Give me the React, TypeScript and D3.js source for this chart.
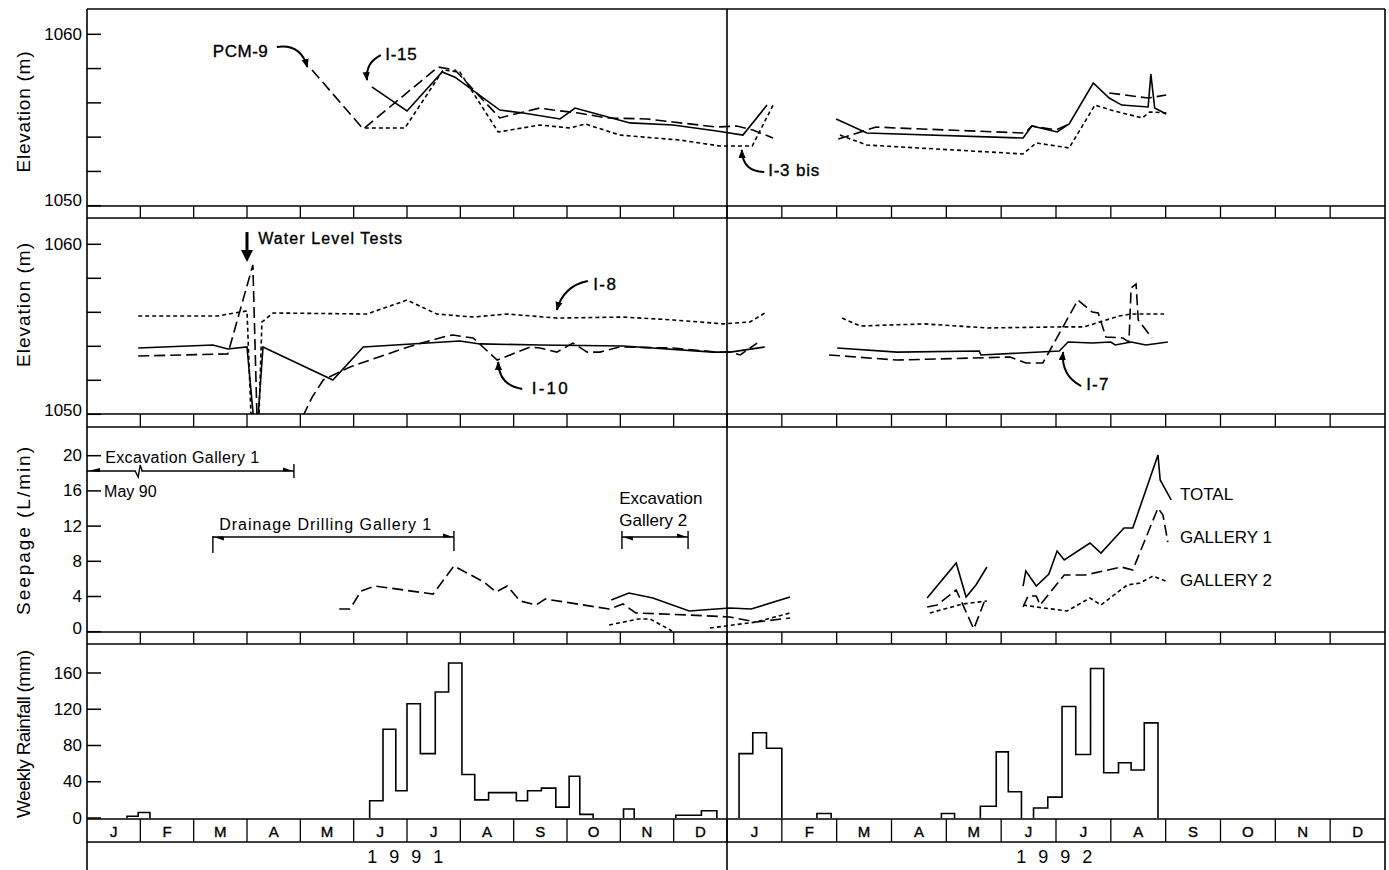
import React from 'react';
import * as d3 from 'd3';

type Pt = [number, number] | null;

// x values are months counted from 1 Jan 1991 (12 = 1 Jan 1992)
const monthLabels = ['J', 'F', 'M', 'A', 'M', 'J', 'J', 'A', 'S', 'O', 'N', 'D'];
const yearLabels = ['1 9 9 1', '1 9 9 2'];

const elevTicks = [1050, 1052, 1054, 1056, 1058, 1060];
const elevLabels = [1050, 1060];
const seepTicks = [0, 4, 8, 12, 16, 20];
const rainTicks = [0, 40, 80, 120, 160];

// Panel 1 - elevation (m)
const pcm9: Pt[] = [
  [4.22, 1057.92], [5.18, 1054.47], [6.58, 1058.09], [6.9, 1057.92], [7.74, 1055.12], [8.18, 1055.47],
  [8.49, 1055.7], [8.74, 1055.58], [9.21, 1055.41], [9.75, 1055.12], [10.5, 1055.06], [10.99, 1054.88],
  [11.81, 1054.59], [12.18, 1054.65], [12.47, 1054.42], [12.84, 1053.95], null,
  [14.03, 1053.89], [14.72, 1054.59], [15.12, 1054.53], [17.43, 1054.24], [17.56, 1054.65], [18.0, 1054.42],
  [18.24, 1054.77], null, [18.97, 1056.58], [19.68, 1056.28], [20.01, 1056.46],
];
const i15: Pt[] = [
  [5.34, 1056.93], [6.0, 1055.53], [6.66, 1057.8], [6.9, 1057.5], [7.74, 1055.58], [8.18, 1055.41],
  [8.87, 1055.06], [9.15, 1055.7], [9.49, 1055.41], [10.18, 1054.83], [10.99, 1054.71], [11.81, 1054.36],
  [12.29, 1054.12], [12.73, 1055.87], null,
  [13.99, 1055.06], [14.55, 1054.24], [17.4, 1053.95], [17.56, 1054.65], [18.02, 1054.3], [18.24, 1054.77],
  [18.68, 1057.16], [18.97, 1056.28], [19.2, 1055.87], [19.68, 1055.76], [19.73, 1057.68], [19.8, 1055.7],
  [20.01, 1055.35],
];
const i3bis: Pt[] = [
  [5.21, 1054.53], [5.96, 1054.53], [6.68, 1057.92], [6.99, 1057.8], [7.71, 1054.3], [8.49, 1054.71],
  [9.06, 1054.53], [9.34, 1054.77], [9.99, 1054.12], [11.12, 1053.83], [11.87, 1053.48], [12.46, 1053.48],
  [12.84, 1055.87], null,
  [14.06, 1054.12], [14.55, 1053.54], [17.4, 1053.02], [17.64, 1053.66], [18.24, 1053.37], [18.71, 1055.87],
  [19.0, 1055.58], [19.57, 1055.12], [19.71, 1055.47], [20.01, 1055.41],
];

// Panel 2 - elevation (m)
const i8: Pt[] = [
  [0.96, 1055.78], [2.44, 1055.78], [3.0, 1056.08], [3.08, 1049.5], [3.22, 1049.5], [3.28, 1055.43],
  [3.49, 1055.96], [5.25, 1055.9], [6.0, 1056.72], [6.56, 1055.9], [7.24, 1055.72], [7.88, 1055.9],
  [8.81, 1055.66], [10.05, 1055.72], [10.99, 1055.55], [11.93, 1055.32], [12.42, 1055.43], [12.69, 1055.96], null,
  [14.1, 1055.66], [14.43, 1055.19], [15.59, 1055.32], [16.74, 1055.08], [18.09, 1055.14], [18.51, 1055.14],
  [19.15, 1055.78], [19.37, 1055.9], [19.97, 1055.9],
];
const i10: Pt[] = [
  [0.96, 1053.43], [2.64, 1053.55], [3.11, 1058.78], [3.19, 1049.5], null,
  [4.05, 1049.9], [4.22, 1051.0], [4.43, 1052.02], [4.93, 1052.78], [5.5, 1053.4], [6.02, 1053.96],
  [6.75, 1054.61], [6.86, 1054.66], [7.24, 1054.49], [7.69, 1053.19], [8.31, 1053.96], [8.49, 1053.9],
  [8.81, 1053.66], [9.11, 1054.19], [9.38, 1053.66], [9.62, 1053.66], [9.99, 1053.96], [10.99, 1053.9],
  [11.81, 1053.66], [12.06, 1053.66], [12.24, 1053.49], [12.55, 1054.19], null,
  [13.86, 1053.49], [15.1, 1053.19], [17.16, 1053.37], [17.45, 1053.02], [17.76, 1053.02], [18.4, 1056.72],
  [18.66, 1056.02], [18.77, 1055.96], [18.91, 1054.55], [19.22, 1054.49], [19.33, 1054.25], [19.37, 1057.43],
  [19.46, 1057.66], [19.5, 1055.55], [19.75, 1054.49],
];
const i7: Pt[] = [
  [0.96, 1053.9], [2.36, 1054.08], [2.64, 1053.84], [3.0, 1053.96], [3.13, 1049.5], [3.2, 1049.5],
  [3.3, 1053.96], [4.61, 1052.02], [5.18, 1053.96], [6.99, 1054.31], [7.37, 1054.14], [8.49, 1054.08],
  [10.05, 1054.02], [11.74, 1053.66], [12.06, 1053.66], [12.69, 1053.96], null,
  [14.01, 1053.9], [15.1, 1053.66], [16.6, 1053.72], [16.63, 1053.49], [18.06, 1053.72], [18.22, 1054.25],
  [18.66, 1054.19], [19.0, 1054.25], [19.08, 1054.08], [19.37, 1054.25], [19.64, 1054.08], [20.04, 1054.25],
];

// Panel 3 - seepage (L/min)
const total: Pt[] = [
  [9.83, 3.6], [10.16, 4.4], [10.61, 3.83], [11.29, 2.35], [12.05, 2.69], [12.44, 2.58], [13.15, 3.94], null,
  [15.65, 3.83], [16.18, 7.81], [16.36, 3.94], [16.54, 5.31], [16.74, 7.35], null,
  [17.4, 5.19], [17.45, 6.9], [17.64, 5.19], [17.87, 6.56], [18.02, 9.17], [18.15, 8.15], [18.62, 10.08],
  [18.82, 8.94], [19.24, 11.78], [19.4, 11.78], [19.86, 20.08], [19.9, 17.24], [20.1, 14.97],
];
const gallery1: Pt[] = [
  [4.73, 2.58], [4.93, 2.58], [5.14, 4.63], [5.4, 5.19], [6.49, 4.28], [6.88, 7.47], [7.44, 5.65],
  [7.67, 4.51], [7.88, 5.19], [8.12, 3.49], [8.42, 3.03], [8.59, 3.72], [9.79, 2.58], [10.05, 3.15],
  [10.29, 2.13], [11.27, 1.9], [12.05, 1.67], [12.53, 1.1], [13.15, 1.56], null,
  [15.65, 2.81], [15.83, 3.03], [16.18, 4.74], [16.5, 0.31], [16.69, 3.38], null,
  [17.4, 2.81], [17.49, 4.06], [17.64, 4.06], [17.71, 3.03], [18.15, 6.44], [18.53, 6.44], [19.19, 7.35],
  [19.4, 7.01], [19.86, 14.06], [19.95, 13.26], [20.04, 10.19],
];
const gallery2: Pt[] = [
  [9.79, 0.76], [10.33, 1.44], [10.56, 1.44], [10.97, 0.08], null,
  [11.68, 0.42], [12.53, 1.1], [13.15, 2.13], null,
  [15.7, 2.13], [16.3, 3.15], [16.74, 3.49], null,
  [17.4, 3.03], [17.64, 2.81], [18.2, 2.35], [18.62, 3.83], [18.82, 3.03], [19.3, 5.31], [19.53, 5.53],
  [19.77, 6.33], [20.04, 5.65],
];

// Panel 4 - weekly rainfall (mm): week edges (months) and values per group
const rainEdges: number[][] = [
  [0.75, 0.96, 1.18],
  [5.3, 5.55, 5.79, 6.0, 6.25, 6.53, 6.78, 7.03, 7.27, 7.53, 7.81, 8.05, 8.26, 8.52, 8.79, 9.04, 9.24, 9.49],
  [10.06, 10.26],
  [11.04, 11.28, 11.52, 11.81],
  [12.22, 12.47, 12.72, 13.0],
  [13.64, 13.9],
  [15.91, 16.15],
  [16.62, 16.91, 17.13, 17.37],
  [17.59, 17.85, 18.11, 18.36, 18.63, 18.87, 19.14, 19.37, 19.61, 19.86],
];
const rainValues: number[][] = [
  [2, 6],
  [19, 98, 30, 126, 71, 139, 171, 48, 20, 28, 28, 19, 30, 33, 12, 46, 4],
  [10],
  [3, 3, 8],
  [71, 94, 77],
  [5],
  [5],
  [13, 73, 29],
  [11, 23, 123, 70, 165, 50, 61, 53, 105],
];

const X0 = 87;
const XM = 727;
const X1 = 1385;
const FONT = '"Liberation Sans", Arial, sans-serif';
const SOLID = undefined;
const LONG = '11,5';
const SHORT = '4,3';

const curved = (x1: number, y1: number, x2: number, y2: number, bend: number) => {
  const mx = (x1 + x2) / 2;
  const my = (y1 + y2) / 2;
  const dx = x2 - x1;
  const dy = y2 - y1;
  const len = Math.hypot(dx, dy) || 1;
  const cx = mx - (dy / len) * bend;
  const cy = my + (dx / len) * bend;
  return `M${x1},${y1}Q${cx},${cy} ${x2},${y2}`;
};

export default function App() {
  const x = d3.scaleLinear().domain([0, 12, 24]).range([X0, XM, X1]);
  const panels = [
    { id: 'p1', top: 9, bottom: 206, y: d3.scaleLinear().domain([1050, 1060]).range([205.7, 34.3]) },
    { id: 'p2', top: 218, bottom: 414, y: d3.scaleLinear().domain([1050, 1060]).range([414.3, 244.3]) },
    { id: 'p3', top: 427, bottom: 632, y: d3.scaleLinear().domain([0, 20]).range([631.7, 455.7]) },
    { id: 'p4', top: 644, bottom: 819, y: d3.scaleLinear().domain([0, 160]).range([818, 673]) },
  ];
  const [p1, p2, p3, p4] = panels;
  const strips = [[206, 218], [414, 427], [632, 644], [819, 842]];
  const months = d3.range(24);

  const mkLine = (y: d3.ScaleLinear<number, number>) =>
    d3.line<Pt>()
      .defined((d) => d !== null)
      .x((d) => x((d as [number, number])[0]))
      .y((d) => y((d as [number, number])[1]));

  const series = [
    { p: p1, data: pcm9, dash: LONG },
    { p: p1, data: i15, dash: SOLID },
    { p: p1, data: i3bis, dash: SHORT },
    { p: p2, data: i8, dash: SHORT },
    { p: p2, data: i10, dash: LONG },
    { p: p2, data: i7, dash: SOLID },
    { p: p3, data: total, dash: SOLID },
    { p: p3, data: gallery1, dash: LONG },
    { p: p3, data: gallery2, dash: SHORT },
  ];

  const rainLine = d3.line<[number, number]>()
    .curve(d3.curveStepAfter)
    .x((d) => x(d[0]))
    .y((d) => p4.y(d[1]));
  const rainPaths = rainEdges.map((edges, g) => {
    const vals = rainValues[g];
    const pts: [number, number][] = [[edges[0], 0]];
    vals.forEach((v, i) => pts.push([edges[i], v]));
    pts.push([edges[edges.length - 1], 0]);
    return rainLine(pts) as string;
  });

  // curved label pointers
  const notes = [
    { p: p1, text: 'PCM-9', at: [2.36, 1058.68], from: [3.56, 1059.26], to: [4.13, 1058.09], bend: -16, ls: 0.5 },
    { p: p1, text: 'I-15', at: [5.59, 1058.5], from: [5.51, 1058.79], to: [5.25, 1057.33], bend: 10, ls: 0.8 },
    { p: p1, text: 'I-3 bis', at: [12.75, 1051.73], from: [12.68, 1051.97], to: [12.27, 1053.25], bend: -15, ls: 0.8 },
    { p: p2, text: 'I-8', at: [9.49, 1057.31], from: [9.39, 1057.84], to: [8.81, 1056.14], bend: 13, ls: 1.5 },
    { p: p2, text: 'I-10', at: [8.34, 1051.19], from: [8.16, 1051.49], to: [7.71, 1053.08], bend: -15, ls: 2.2 },
    { p: p2, text: 'I-7', at: [18.55, 1051.43], from: [18.46, 1051.66], to: [18.13, 1053.66], bend: -13, ls: 1.2 },
  ];

  const yAxis = (p: typeof p1, ticks: number[], labels: number[], lift: number) => (
    <g>
      {ticks.map((t) => (
        <line key={'t' + t} x1={X0} x2={X0 + 14} y1={p.y(t)} y2={p.y(t)} stroke="#000" strokeWidth={1.5} />
      ))}
      {labels.map((t, i) => (
        <text key={'l' + t} x={82} y={p.y(t) - (i === 0 ? lift : 0)} textAnchor="end" dominantBaseline="central"
          fontSize={17} fontFamily={FONT}>{t}</text>
      ))}
    </g>
  );

  // range bars in seepage panel
  const bar = (m0: number, m1: number, v: number, key: string, tickUp: number, tickDown: number) => {
    const xa = x(m0);
    const xb = x(m1);
    const yy = p3.y(v);
    return (
      <g key={key}>
        <line x1={xa} x2={xb} y1={yy} y2={yy} stroke="#000" strokeWidth={1.4} />
        <line x1={xb} x2={xb} y1={yy - tickUp} y2={yy + tickDown} stroke="#000" strokeWidth={1.4} />
        <path d={`M${xb - 1},${yy} L${xb - 11},${yy - 3.5} L${xb - 11},${yy + 0.5} Z`} fill="#000" />
      </g>
    );
  };

  const wx = x(3.0);
  const wTop = p2.y(1060.72);
  const wTip = p2.y(1058.96);
  const textStyle = { stroke: '#000', strokeWidth: 0.35 };

  return (
    <svg width={1389} height={870} style={{ position: 'absolute', left: 0, top: 0, background: '#fff' }}>
      <defs>
        <marker id="ah" viewBox="0 0 10 10" refX="9" refY="5" markerWidth="9" markerHeight="9"
          markerUnits="userSpaceOnUse" orient="auto">
          <path d="M0,1 L10,5 L0,9 Z" fill="#000" />
        </marker>
        {panels.map((p) => (
          <clipPath key={p.id} id={'clip-' + p.id}>
            <rect x={X0} y={p.top} width={X1 - X0} height={p.bottom - p.top} />
          </clipPath>
        ))}
      </defs>
      <rect x={0} y={0} width={1389} height={870} fill="#fff" />

      {/* frame */}
      {[9, 206, 218, 414, 427, 632, 644, 819, 842].map((yy) => (
        <line key={'h' + yy} x1={X0} x2={X1} y1={yy} y2={yy} stroke="#000" strokeWidth={1.6} />
      ))}
      {[X0, XM, X1].map((xx) => (
        <line key={'v' + xx} x1={xx} x2={xx} y1={9} y2={870} stroke="#000" strokeWidth={1.6} />
      ))}
      {strips.map(([a, b]) =>
        months.slice(1).map((m) => (
          <line key={`s${a}-${m}`} x1={x(m)} x2={x(m)} y1={a} y2={b} stroke="#000" strokeWidth={1.3} />
        ))
      )}
      {months.map((m) => (
        <text key={'m' + m} x={x(m + 0.5)} y={831} textAnchor="middle" dominantBaseline="central"
          fontSize={15} fontFamily={FONT} style={textStyle}>{monthLabels[m % 12]}</text>
      ))}
      {yearLabels.map((yl, i) => (
        <text key={yl} x={x(i * 12 + 6)} y={857} textAnchor="middle" dominantBaseline="central"
          fontSize={18} letterSpacing={3.5} fontFamily={FONT}>{yl}</text>
      ))}

      {/* axes */}
      {yAxis(p1, elevTicks, elevLabels, 5)}
      {yAxis(p2, elevTicks, elevLabels, 4)}
      {yAxis(p3, seepTicks, seepTicks, 3)}
      {yAxis(p4, rainTicks, rainTicks, 0)}

      {[
        { t: 'Elevation (m)', c: 112, len: 121 },
        { t: 'Elevation (m)', c: 305, len: 124 },
        { t: 'Seepage (L/min)', c: 531, len: 168 },
        { t: 'Weekly Rainfall (mm)', c: 734, len: 168 },
      ].map((a, i) => (
        <text key={'at' + i} transform={`translate(23,${a.c}) rotate(-90)`} textAnchor="middle"
          dominantBaseline="central" fontSize={19} fontFamily={FONT} textLength={a.len}>{a.t}</text>
      ))}

      {/* series */}
      {series.map((s, i) => (
        <path key={'ser' + i} d={mkLine(s.p.y)(s.data) as string} fill="none" stroke="#000"
          strokeWidth={1.6} strokeDasharray={s.dash} clipPath={`url(#clip-${s.p.id})`} />
      ))}
      {rainPaths.map((d, i) => (
        <path key={'rain' + i} d={d} fill="none" stroke="#000" strokeWidth={1.6} />
      ))}

      {/* labels with pointers */}
      {notes.map((n) => {
        const sx = x(n.from[0]);
        const sy = n.p.y(n.from[1]);
        const ex = x(n.to[0]);
        const ey = n.p.y(n.to[1]);
        return (
          <g key={n.text}>
            <text x={x(n.at[0])} y={n.p.y(n.at[1])} fontSize={17} letterSpacing={n.ls} fontFamily={FONT}
              style={textStyle}>{n.text}</text>
            <path d={curved(sx, sy, ex, ey, n.bend)} fill="none" stroke="#000" strokeWidth={2}
              markerEnd="url(#ah)" />
          </g>
        );
      })}

      {/* water level tests arrow */}
      <line x1={wx} x2={wx} y1={wTop} y2={wTip - 10} stroke="#000" strokeWidth={3} />
      <path d={`M${wx - 6},${wTip - 12} L${wx + 6},${wTip - 12} L${wx},${wTip} Z`} fill="#000" />
      <text x={x(3.21)} y={p2.y(1060.02)} fontSize={16} letterSpacing={1.1} fontFamily={FONT}
        style={textStyle}>Water Level Tests</text>

      {/* seepage panel annotations */}
      <text x={x(0.34)} y={p3.y(19.17)} fontSize={16} fontFamily={FONT} textLength={154}>Excavation Gallery 1</text>
      <text x={x(0.32)} y={p3.y(15.31)} fontSize={16} fontFamily={FONT}>May 90</text>
      {(() => {
        const yy = p3.y(18.26);
        const xb = x(0.96);
        return (
          <g>
            <path d={`M${X0 + 1},${yy} L${X0 + 13},${yy - 3} L${X0 + 13},${yy + 1} Z`} fill="#000" />
            <path d={`M${X0},${yy} L${xb - 3},${yy} L${xb},${yy + 6} L${xb + 2},${yy - 6} L${xb + 4},${yy}`}
              fill="none" stroke="#000" strokeWidth={1.4} />
          </g>
        );
      })()}
      {bar(1.02, 3.88, 18.26, 'exc1', 7, 7)}

      <text x={x(2.48)} y={p3.y(11.56)} fontSize={16} fontFamily={FONT} textLength={212}>Drainage Drilling Gallery 1</text>
      {bar(2.36, 6.88, 10.76, 'drain', 6, 14)}
      <line x1={x(2.36)} x2={x(2.36)} y1={p3.y(10.76) - 1} y2={p3.y(10.76) + 16} stroke="#000" strokeWidth={1.4} />
      <path d={`M${x(2.36) + 1},${p3.y(10.76)} L${x(2.36) + 11},${p3.y(10.76) - 0.5} L${x(2.36) + 11},${p3.y(10.76) + 3.5} Z`} fill="#000" />

      <text x={x(9.98)} y={p3.y(14.51)} fontSize={17} fontFamily={FONT}>Excavation</text>
      <text x={x(9.98)} y={p3.y(12.01)} fontSize={17} fontFamily={FONT}>Gallery 2</text>
      {bar(10.03, 11.27, 10.76, 'exc2', 6, 12)}
      <line x1={x(10.03)} x2={x(10.03)} y1={p3.y(10.76) - 6} y2={p3.y(10.76) + 12} stroke="#000" strokeWidth={1.4} />
      <path d={`M${x(10.03) + 1},${p3.y(10.76)} L${x(10.03) + 11},${p3.y(10.76) - 0.5} L${x(10.03) + 11},${p3.y(10.76) + 3.5} Z`} fill="#000" />

      {[
        { t: 'TOTAL', v: 14.97 },
        { t: 'GALLERY 1', v: 10.08 },
        { t: 'GALLERY 2', v: 5.19 },
      ].map((l) => (
        <text key={l.t} x={x(20.26)} y={p3.y(l.v)} fontSize={17} fontFamily={FONT}>{l.t}</text>
      ))}
    </svg>
  );
}
